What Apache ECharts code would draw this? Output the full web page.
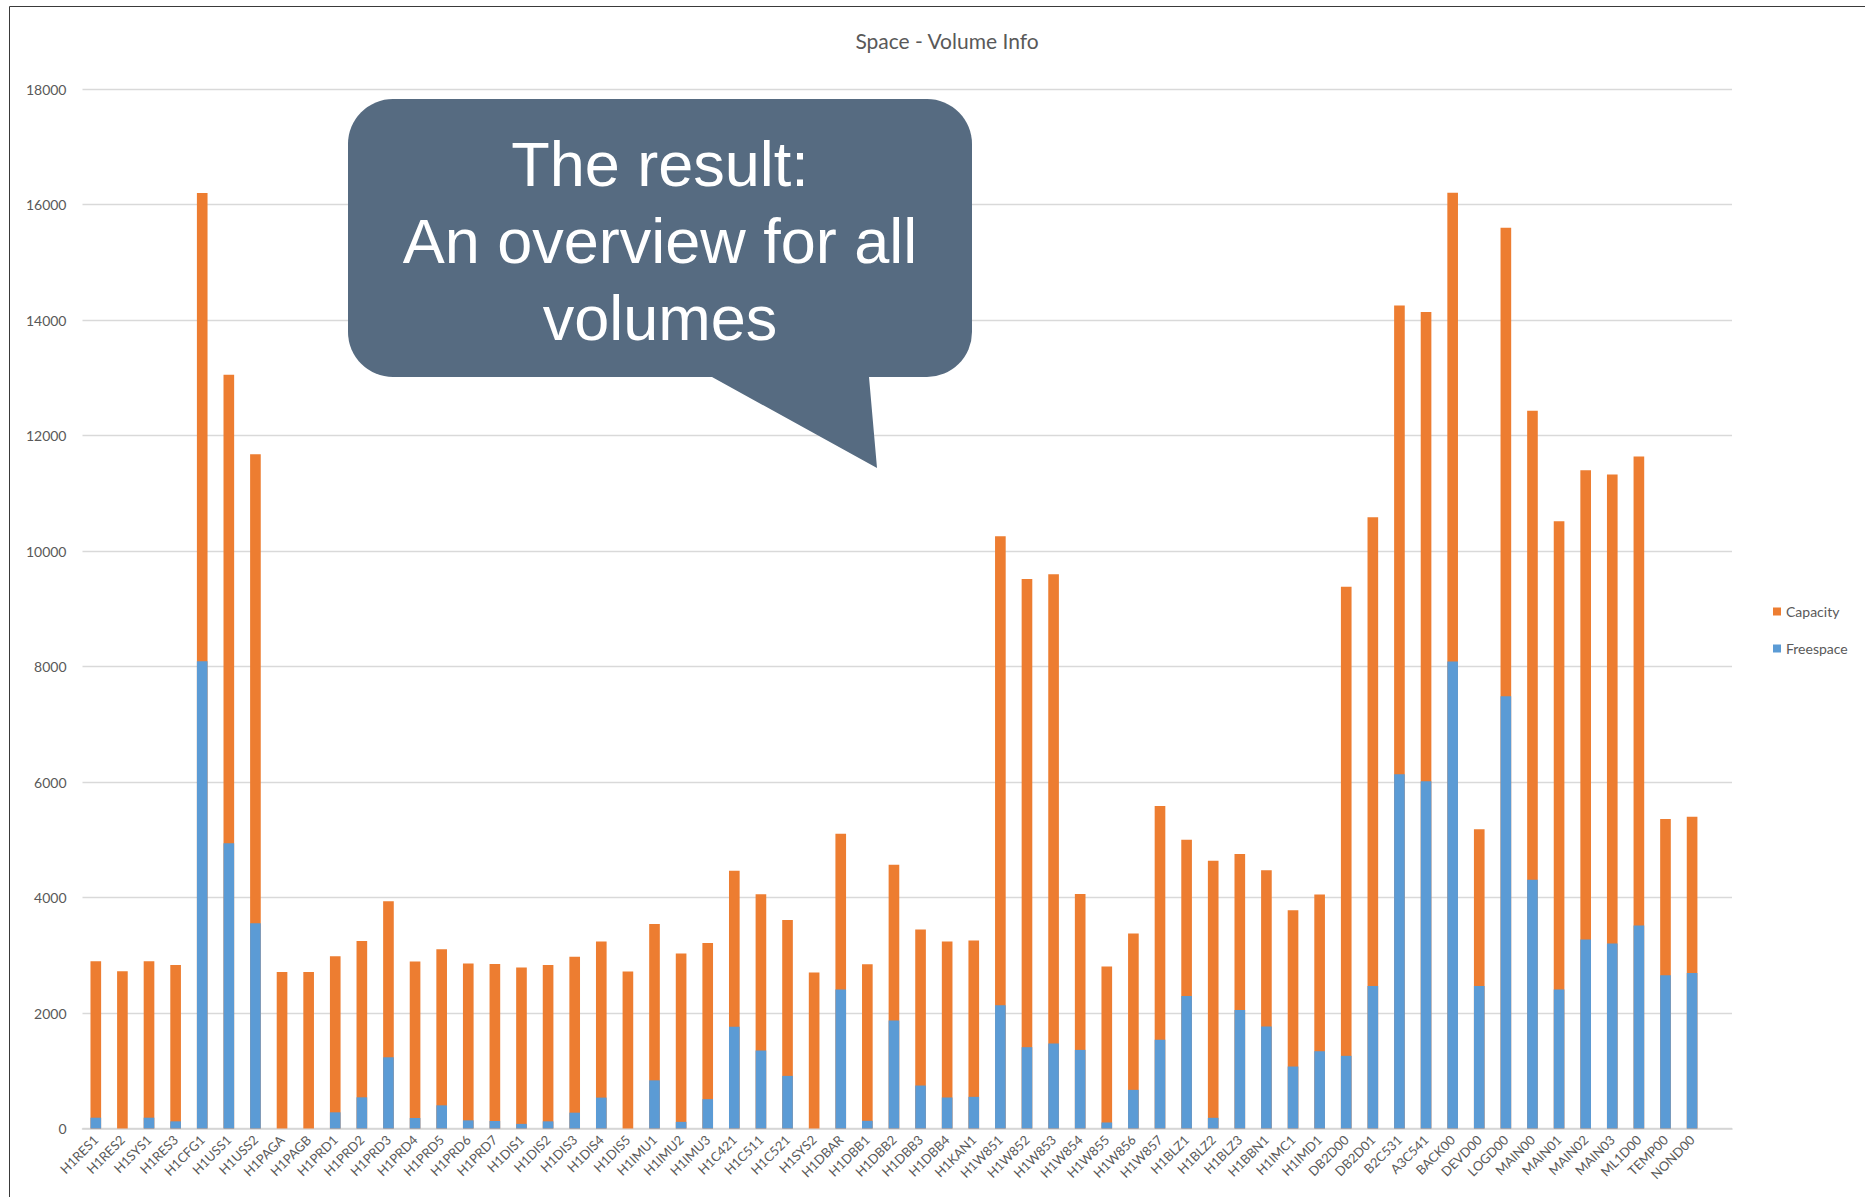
<!DOCTYPE html>
<html>
<head>
<meta charset="utf-8">
<title>Space - Volume Info</title>
<script src="https://cdn.jsdelivr.net/npm/echarts@6/dist/echarts.min.js"></script>
<style>
  html, body { margin: 0; padding: 0; background: #ffffff; }
  #chart { width: 1865px; height: 1197px; }
</style>
</head>
<body>
<div id="chart"></div>
<script>
// Volume names (the trailing blank slot is an empty row of the sheet)
const volumes = [
  'H1RES1','H1RES2','H1SYS1','H1RES3','H1CFG1','H1USS1','H1USS2','H1PAGA','H1PAGB','H1PRD1',
  'H1PRD2','H1PRD3','H1PRD4','H1PRD5','H1PRD6','H1PRD7','H1DIS1','H1DIS2','H1DIS3','H1DIS4',
  'H1DIS5','H1IMU1','H1IMU2','H1IMU3','H1C421','H1C511','H1C521','H1SYS2','H1DBAR','H1DBB1',
  'H1DBB2','H1DBB3','H1DBB4','H1KAN1','H1W851','H1W852','H1W853','H1W854','H1W855','H1W856',
  'H1W857','H1BLZ1','H1BLZ2','H1BLZ3','H1BBN1','H1IMC1','H1IMD1','DB2D00','DB2D01','B2C531',
  'A3C541','BACK00','DEVD00','LOGD00','MAIN00','MAIN01','MAIN02','MAIN03','ML1D00','TEMP00',
  'NOND00',''
];

// Capacity per volume (MB)
const capacity = [
  2896, 2722, 2896, 2832, 16200, 13050, 11675, 2711, 2711, 2982,
  3248, 3935, 2890, 3103, 2855, 2849, 2786, 2832, 2976, 3236,
  2717, 3542, 3029, 3213, 4465, 4056, 3611, 2700, 5106, 2844,
  4569, 3444, 3236, 3254, 10255, 9513, 9596, 4061, 2804, 3375,
  5584, 5002, 4638, 4754, 4471, 3779, 4050, 9379, 10584, 14250,
  14140, 16204, 5181, 15598, 12427, 10516, 11400, 11326, 11635, 5360,
  5400, null
];

// Free space per volume (MB)
const freespace = [
  187, 0, 187, 124, 8090, 4939, 3554, 0, 0, 280,
  540, 1233, 182, 401, 141, 130, 80, 124, 274, 535,
  0, 834, 115, 508, 1760, 1350, 911, 0, 2406, 133,
  1869, 744, 537, 548, 2135, 1408, 1471, 1361, 104, 669,
  1535, 2296, 185, 2054, 1765, 1073, 1338, 1258, 2469, 6135,
  6011, 8085, 2469, 7485, 4309, 2406, 3271, 3202, 3513, 2654,
  2694, null
];

// Value axis ticks
const yMin = 0;
const yMax = 18000;
const yStep = 2000;

const labelColor = '#595959';
const uiFont = 'Lato, "Open Sans", sans-serif';
const bubbleColor = '#566b81';

const chart = echarts.init(document.getElementById('chart'), null, { renderer: 'svg' });

chart.setOption({
  backgroundColor: '#ffffff',
  animation: false,
  title: {
    text: 'Space - Volume Info',
    left: 942,
    top: 25,
    textAlign: 'center',
    textStyle: { fontFamily: uiFont, fontSize: 21, fontWeight: 'normal', color: labelColor }
  },
  legend: {
    orient: 'vertical',
    left: 1768,
    top: 598,
    itemWidth: 8,
    itemHeight: 8,
    itemGap: 20,
    icon: 'rect',
    textStyle: { fontFamily: uiFont, fontSize: 14, color: labelColor, lineHeight: 17 },
    data: ['Capacity', 'Freespace']
  },
  grid: { left: 82.5, right: 133, top: 89, bottom: 68.5, containLabel: false },
  xAxis: {
    type: 'category',
    data: volumes,
    axisTick: { show: false },
    axisLine: { lineStyle: { color: '#d4d4d4', width: 1.6 } },
    axisLabel: {
      interval: 0,
      rotate: 45,
      margin: 9,
      fontFamily: uiFont,
      fontSize: 13,
      color: labelColor
    }
  },
  yAxis: {
    type: 'value',
    min: yMin,
    max: yMax,
    interval: yStep,
    axisLine: { show: false },
    axisTick: { show: false },
    splitLine: { lineStyle: { color: '#d9d9d9', width: 1.3 } },
    axisLabel: {
      margin: 16,
      fontFamily: uiFont,
      fontSize: 14,
      color: labelColor,
      formatter: (v) => String(v)
    }
  },
  series: [
    {
      name: 'Capacity',
      type: 'bar',
      data: capacity,
      barWidth: '40%',
      barGap: '-100%',
      itemStyle: { color: '#ED7D31' }
    },
    {
      name: 'Freespace',
      type: 'bar',
      data: freespace,
      barWidth: '40%',
      barGap: '-100%',
      itemStyle: { color: '#5B9BD5' }
    }
  ],
  graphic: [
    // frame of the sheet area
    { type: 'line', z: 100, shape: { x1: 9.5, y1: 6.5, x2: 1865, y2: 6.5 }, style: { stroke: '#3a3a3a', lineWidth: 1 } },
    { type: 'line', z: 100, shape: { x1: 9.5, y1: 6.5, x2: 9.5, y2: 1197 }, style: { stroke: '#3a3a3a', lineWidth: 1 } },
    // speech bubble
    { type: 'rect', z: 100, shape: { x: 348, y: 99, width: 624, height: 278, r: 45 }, style: { fill: bubbleColor } },
    { type: 'polygon', z: 100, shape: { points: [[712, 370], [869, 370], [869, 377], [877, 468], [712, 377]] }, style: { fill: bubbleColor } },
    {
      type: 'text',
      z: 101,
      x: 660,
      y: 241,
      style: {
        text: 'The result:\nAn overview for all\nvolumes',
        fill: '#ffffff',
        font: '63px "Liberation Sans", Arial, sans-serif',
        lineHeight: 77,
        align: 'center',
        verticalAlign: 'middle'
      }
    }
  ]
});
</script>
</body>
</html>
